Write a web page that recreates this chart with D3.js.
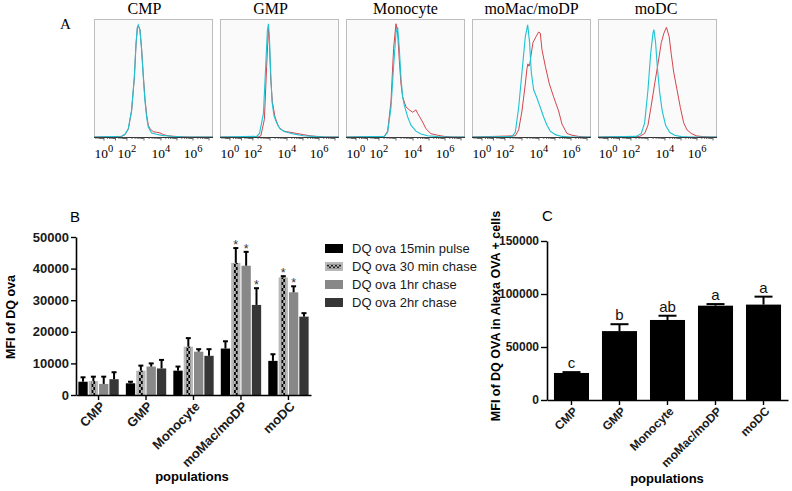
<!DOCTYPE html>
<html><head><meta charset="utf-8">
<script src="https://cdn.jsdelivr.net/npm/d3@7"></script>
<style>body{margin:0;background:#fff}svg{display:block}</style>
</head><body><script>
// ---------------- DATA ----------------
const populations = ["CMP","GMP","Monocyte","moMac/moDP","moDC"];

// Panel A: histogram axis (channel units 0-1000) and curves [channel, % of max]
const histTickExps = ["0","2","4","6"];
const histTickChannels = [84,277,563,832];
const cmpCyan = [[0,0],[232,0.6],[260,2.3],[288,7],[316,23],[339,51],[353,79],[364,93],[372,95],[386,91],[400,74],[414,51],[428,31],[442,17],[456,8.5],[484,3.4],[526,2.3],[568,1.4],[652,0.6],[764,0],[1000,0]];
const cmpRed = [[0,0],[232,0.5],[260,2],[288,6.5],[316,22],[339,50],[353,78],[364,92],[372,94],[386,91],[400,75],[414,53],[428,33],[442,19],[456,10],[470,7],[498,4.5],[526,4],[554,3.5],[582,2],[624,1],[708,0.3],[800,0],[1000,0]];
const gmpCyan = [[0,0],[308,0.5],[332,3],[365,20],[384,60],[398,90],[407,96],[415,85],[426,55],[437,30],[454,18],[476,12],[504,7],[546,4.5],[617,2.5],[701,1],[812,0.3],[900,0],[1000,0]];
const gmpRed = [[0,0],[320,0],[343,1],[373,15],[392,60],[407,92],[415,80],[426,50],[440,30],[462,17],[490,9],[532,5],[560,4.5],[588,4],[644,3],[700,2],[756,1],[812,0.5],[880,0],[1000,0]];
const monoCyan = [[0,0],[322,0.5],[350,4],[378,25],[400,60],[420,88],[434,93],[448,75],[462,50],[476,34],[490,27],[518,17],[546,10],[588,5],[630,2.5],[686,1],[770,0.3],[850,0],[1000,0]];
const monoRed = [[0,0],[322,0.5],[350,5],[378,30],[400,75],[420,96],[434,88],[448,65],[462,45],[476,34],[504,25.5],[532,23],[560,21],[588,23],[602,20],[616,17.6],[644,12.7],[672,7],[714,2.8],[770,1.5],[826,0.5],[900,0],[1000,0]];
const moMacCyan = [[0,0],[336,0.5],[364,4],[392,25],[420,55],[448,85],[468,95],[484,80],[498,55],[518,40],[546,33],[574,25],[602,17],[630,10],[658,5],[700,2],[756,0.5],[830,0],[1000,0]];
const moMacRed = [[0,0],[364,1],[392,6],[420,22],[448,45],[462,58],[470,62],[478,60],[486,62],[500,72],[512,80],[538,85],[560,89],[574,88],[588,74],[616,60],[650,45],[686,34],[728,22],[756,11],[798,3],[840,1.5],[896,0.5],[950,0],[1000,0]];
const moDCCyan = [[0,0],[322,0.5],[364,3],[392,12],[420,40],[442,70],[462,88],[470,91],[484,80],[498,60],[518,38],[540,22],[568,10],[602,4],[644,1.5],[700,0.3],[780,0],[1000,0]];
const moDCRed = [[0,0],[350,0.5],[392,3],[420,10],[448,27],[476,45],[504,62],[532,80],[554,88],[575,93],[598,85],[616,70],[636,55],[664,40],[692,25],[720,12],[748,6],[784,3],[826,1],[882,0.3],[950,0],[1000,0]];
const histCyan = [cmpCyan, gmpCyan, monoCyan, moMacCyan, moDCCyan];
const histRed = [cmpRed, gmpRed, monoRed, moMacRed, moDCRed];

// Panel B
const seriesNames = ["DQ ova 15min pulse","DQ ova 30 min chase","DQ ova 1hr chase","DQ ova 2hr chase"];
const pulse15 = [4200, 3700, 7700, 14700, 10800];
const pulse15Err = [1400, 500, 1300, 2300, 2100];
const chase30 = [4400, 7700, 15300, 41800, 37200];
const chase30Err = [1400, 1600, 2700, 4700, 400];
const chase1h = [3500, 9000, 13700, 40900, 32500];
const chase1hErr = [2300, 1000, 800, 4400, 1900];
const chase2h = [5000, 8400, 12400, 28500, 24800];
const chase2hErr = [2200, 2700, 2100, 5300, 1100];
const sig15 = [0,0,0,0,0];
const sig30 = [0,0,0,1,1];
const sig1h = [0,0,0,1,1];
const sig2h = [0,0,0,1,0];
const bYTicks = [0,10000,20000,30000,40000,50000];

// Panel C
const cValues = [25500, 65000, 75500, 89000, 90000];
const cErrors = [800, 6500, 4000, 1500, 7500];
const cLetters = ["c","b","ab","a","a"];
const cYTicks = [0,50000,100000,150000];

// ---------------- DRAW ----------------
const W = 792, H = 491;
const svg = d3.select("body").append("svg").attr("width", W).attr("height", H);
const sans = "'Liberation Sans', Arial, Helvetica, sans-serif";
const serif = "'Liberation Serif', 'Times New Roman', Times, serif";
const defs = svg.append("defs");

// ---- Panel A ----
svg.append("text").attr("x", 60).attr("y", 29).attr("font-family", serif).attr("font-size", 15).text("A");
const frameX = d3.scaleBand().domain(populations).range([94, 717]).paddingInner(0.0556).paddingOuter(0);
const titleShift = [-9, -9, 0, 0, -1.5];
const hTop = 19, hBase = 137;
const logToCh = d3.scaleLinear().domain([0, 2, 4, 6]).range(histTickChannels);
const axisLogs = [];
for (let n = -1; n <= 7; n++) for (let k = 1; k <= 9; k++) axisLogs.push({ v: n + Math.log10(k), major: k === 1 });

populations.forEach((p, i) => {
  const x0 = frameX(p), bw = frameX.bandwidth();
  const xs = d3.scaleLinear().domain([0, 1000]).range([x0, x0 + bw]);
  const ys = d3.scaleLinear().domain([0, 100]).range([hBase, hTop]);
  const g = svg.append("g");
  g.append("rect").attr("x", x0 + 0.5).attr("y", hTop + 0.5).attr("width", bw - 1).attr("height", hBase - hTop)
    .attr("fill", "#fafafa").attr("stroke", "#bdbdbd");
  g.append("text").attr("x", x0 + bw / 2 + titleShift[i]).attr("y", 13.5).attr("text-anchor", "middle")
    .attr("font-family", serif).attr("font-size", 16).text(p);
  const line = d3.line().x(d => xs(d[0])).y(d => ys(d[1]));
  g.append("path").datum(histRed[i]).attr("d", line).attr("fill", "none").attr("stroke", "#d3454e").attr("stroke-width", 1);
  g.append("path").datum(histCyan[i]).attr("d", line).attr("fill", "none").attr("stroke", "#1ec3d3").attr("stroke-width", 1.1);
  g.append("line").attr("x1", x0).attr("x2", x0 + bw).attr("y1", hBase + 0.5).attr("y2", hBase + 0.5)
    .attr("stroke", "#333").attr("stroke-width", 1);
  axisLogs.forEach(t => {
    const c = logToCh(t.v);
    if (c < 3 || c > 997) return;
    g.append("line").attr("x1", xs(c)).attr("x2", xs(c)).attr("y1", hBase).attr("y2", hBase + (t.major ? 3.5 : 2))
      .attr("stroke", "#444").attr("stroke-width", 0.8);
  });
  histTickExps.forEach((e, j) => {
    const t = g.append("text").attr("x", xs(histTickChannels[j])).attr("y", 157.5).attr("text-anchor", "middle")
      .attr("font-family", serif).attr("font-size", 13.5);
    t.append("tspan").text("10");
    t.append("tspan").attr("dy", -6).attr("font-size", 10.5).text(e);
  });
});

// ---- Panel B ----
const bY = d3.scaleLinear().domain([0, 50000]).range([395, 237]);
const bX = d3.scaleBand().domain(populations).range([76, 311]).paddingInner(0.15).paddingOuter(0.05);
const bInner = d3.scaleBand().domain(d3.range(4)).range([0, bX.bandwidth()]).paddingInner(0.1);
const bVals = [pulse15, chase30, chase1h, chase2h];
const bErrs = [pulse15Err, chase30Err, chase1hErr, chase2hErr];
const bSig = [sig15, sig30, sig1h, sig2h];
const bFills = ["#000000", "#b9b9b9", "#888888", "#363636"];
const gB = svg.append("g");

bVals.forEach((vals, s) => {
  populations.forEach((p, c) => {
    const v = vals[c], e = bErrs[s][c];
    const x = bX(p) + bInner(s), w = bInner.bandwidth(), cx = x + w / 2;
    gB.append("rect").attr("x", x).attr("y", bY(v)).attr("width", w).attr("height", bY(0) - bY(v)).attr("fill", bFills[s]);
    if (s === 1) {
      const pid = "chk" + c;
      const pat = defs.append("pattern").attr("id", pid).attr("patternUnits", "userSpaceOnUse")
        .attr("x", cx - 2).attr("y", 0).attr("width", 4).attr("height", 6);
      pat.append("rect").attr("x", 0).attr("y", 0).attr("width", 2).attr("height", 3).attr("fill", "#000");
      pat.append("rect").attr("x", 2).attr("y", 3).attr("width", 2).attr("height", 3).attr("fill", "#000");
      gB.append("rect").attr("x", cx - 2).attr("y", bY(v)).attr("width", 4).attr("height", bY(0) - bY(v)).attr("fill", `url(#${pid})`);
    }
    gB.append("line").attr("x1", cx).attr("x2", cx).attr("y1", bY(v)).attr("y2", bY(v + e)).attr("stroke", "#000").attr("stroke-width", 2);
    gB.append("line").attr("x1", cx - 2.5).attr("x2", cx + 2.5).attr("y1", bY(v + e)).attr("y2", bY(v + e)).attr("stroke", "#000").attr("stroke-width", 2);
    if (bSig[s][c]) {
      gB.append("text").attr("x", cx).attr("y", bY(v + e) + 1).attr("text-anchor", "middle")
        .attr("font-family", sans).attr("font-size", 12.5).attr("fill", "#333").text("*");
    }
  });
});

const bYAxis = gB.append("g").attr("transform", "translate(76,0)")
  .call(d3.axisLeft(bY).tickValues(bYTicks).tickSize(5).tickSizeOuter(0).tickPadding(2).tickFormat(d3.format("d")));
const bXAxis = gB.append("g").attr("transform", "translate(0,395)")
  .call(d3.axisBottom(bX).tickSize(5).tickSizeOuter(0));
[bYAxis, bXAxis].forEach(a => {
  a.select(".domain").attr("stroke", "#000").attr("stroke-width", 1.6);
  a.selectAll(".tick line").attr("stroke", "#000").attr("stroke-width", 1.4);
  a.selectAll("text").attr("font-family", sans).attr("font-weight", "bold").attr("font-size", 13).attr("fill", "#1a1a1a");
});
bXAxis.selectAll(".tick text").attr("x", 0).attr("y", 0).attr("dy", "0.35em").attr("text-anchor", "end")
  .attr("transform", "translate(4,9) rotate(-45)");

gB.append("text").attr("x", 70).attr("y", 222).attr("font-family", sans).attr("font-size", 15).text("B");
gB.append("text").attr("transform", "translate(14.5,317) rotate(-90)").attr("text-anchor", "middle")
  .attr("font-family", sans).attr("font-weight", "bold").attr("font-size", 12.5).text("MFI of DQ ova");
gB.append("text").attr("x", 192).attr("y", 481).attr("text-anchor", "middle")
  .attr("font-family", sans).attr("font-weight", "bold").attr("font-size", 13).text("populations");

// legend
const lpat = defs.append("pattern").attr("id", "chkLegend").attr("patternUnits", "userSpaceOnUse")
  .attr("x", 327).attr("y", 264.5).attr("width", 4).attr("height", 4);
lpat.append("rect").attr("x", 0).attr("y", 0).attr("width", 2).attr("height", 2).attr("fill", "#222");
lpat.append("rect").attr("x", 2).attr("y", 2).attr("width", 2).attr("height", 2).attr("fill", "#222");
seriesNames.forEach((n, s) => {
  const cy = 248.5 + 18 * s;
  gB.append("rect").attr("x", 325).attr("y", cy - 4.5).attr("width", 18).attr("height", 9).attr("fill", bFills[s]);
  if (s === 1) gB.append("rect").attr("x", 327).attr("y", cy - 2).attr("width", 14).attr("height", 4).attr("fill", "url(#chkLegend)");
  gB.append("text").attr("x", 352).attr("y", cy + 4.5).attr("font-family", sans).attr("font-size", 13).attr("fill", "#1a1a1a").text(n);
});

// ---- Panel C ----
const cY = d3.scaleLinear().domain([0, 150000]).range([400, 241]);
const cX = d3.scaleBand().domain(populations).range([547, 788]).paddingInner(0.27).paddingOuter(0.145);
const gC = svg.append("g");
populations.forEach((p, i) => {
  const v = cValues[i], e = cErrors[i];
  const x = cX(p), w = cX.bandwidth(), cx = x + w / 2;
  gC.append("rect").attr("x", x).attr("y", cY(v)).attr("width", w).attr("height", cY(0) - cY(v)).attr("fill", "#000");
  gC.append("line").attr("x1", cx).attr("x2", cx).attr("y1", cY(v)).attr("y2", cY(v + e)).attr("stroke", "#000").attr("stroke-width", 2);
  gC.append("line").attr("x1", cx - 9).attr("x2", cx + 9).attr("y1", cY(v + e)).attr("y2", cY(v + e)).attr("stroke", "#000").attr("stroke-width", 2);
  gC.append("text").attr("x", cx).attr("y", cY(v + e) - 4).attr("text-anchor", "middle")
    .attr("font-family", sans).attr("font-size", 15).attr("fill", "#111").text(cLetters[i]);
});
const cYAxis = gC.append("g").attr("transform", "translate(547,0)")
  .call(d3.axisLeft(cY).tickValues(cYTicks).tickSize(6).tickSizeOuter(0).tickPadding(2).tickFormat(d3.format("d")));
const cXAxis = gC.append("g").attr("transform", "translate(0,400)")
  .call(d3.axisBottom(cX).tickSize(5).tickSizeOuter(0));
[cYAxis, cXAxis].forEach(a => {
  a.select(".domain").attr("stroke", "#000").attr("stroke-width", 1.6);
  a.selectAll(".tick line").attr("stroke", "#000").attr("stroke-width", 1.4);
  a.selectAll("text").attr("font-family", sans).attr("font-weight", "bold").attr("font-size", 12).attr("fill", "#1a1a1a");
});
cXAxis.selectAll(".tick text").attr("x", 0).attr("y", 0).attr("dy", "0.35em").attr("text-anchor", "end")
  .attr("transform", "translate(4,9) rotate(-45)");
gC.append("text").attr("x", 542).attr("y", 221).attr("font-family", sans).attr("font-size", 15).text("C");
gC.append("text").attr("transform", "translate(500,316) rotate(-90)").attr("text-anchor", "middle")
  .attr("font-family", sans).attr("font-weight", "bold").attr("font-size", 12.5).text("MFI of DQ OVA in Alexa OVA + cells");
gC.append("text").attr("x", 667).attr("y", 483).attr("text-anchor", "middle")
  .attr("font-family", sans).attr("font-weight", "bold").attr("font-size", 13).text("populations");
</script></body></html>
